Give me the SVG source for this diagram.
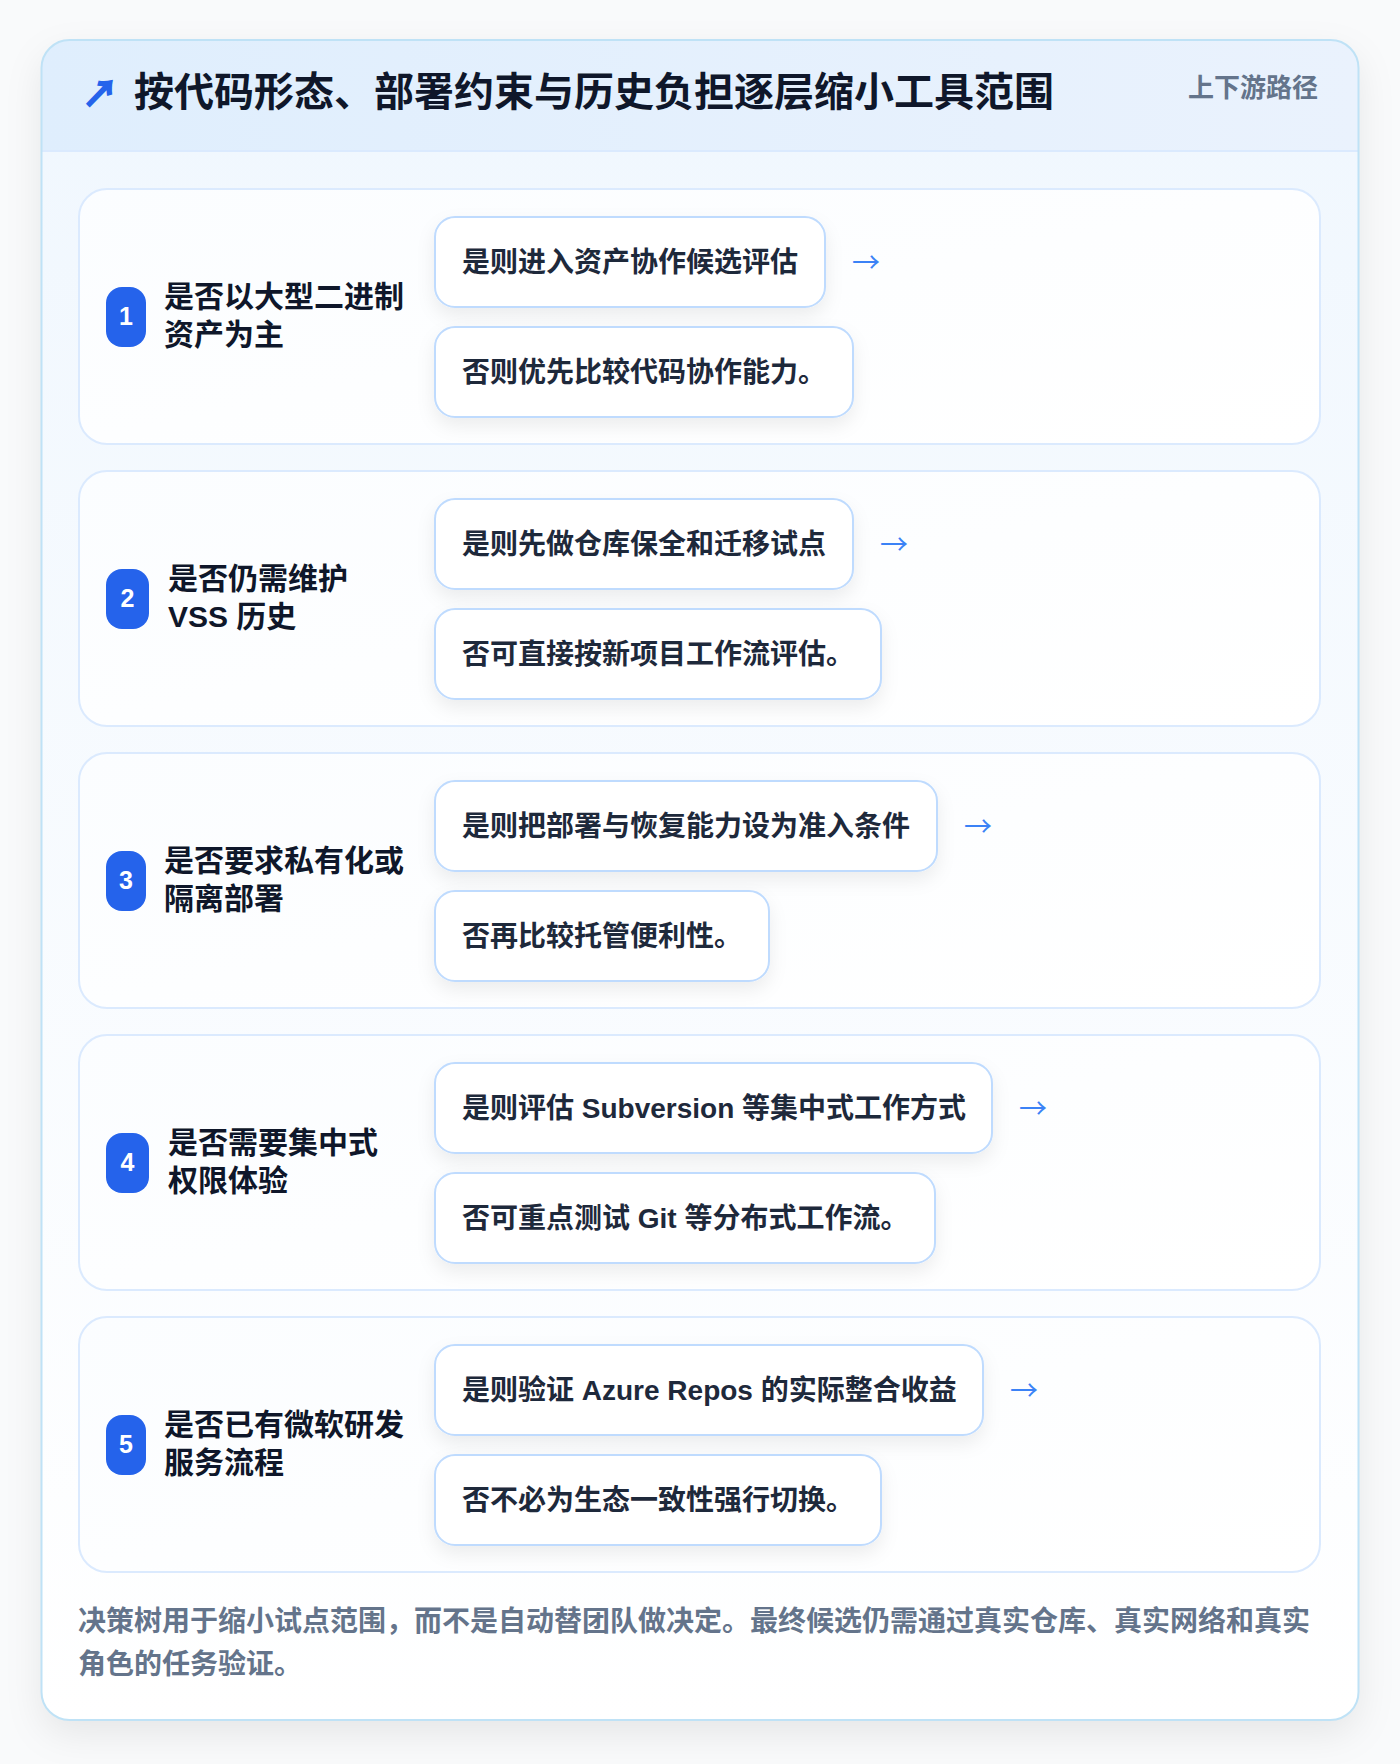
<svg xmlns="http://www.w3.org/2000/svg" width="1400" height="1764" viewBox="0 0 1400 1764">
<defs>
<linearGradient id="hdr" x1="0" y1="0" x2="1" y2="0"><stop offset="0" stop-color="#dfeefd"/><stop offset="1" stop-color="#eaf2fd"/></linearGradient>
<linearGradient id="body" x1="0" y1="0" x2="0" y2="1"><stop offset="0" stop-color="#f0f7fe"/><stop offset="1" stop-color="#ffffff"/></linearGradient>
<linearGradient id="cardbg" x1="0" y1="0" x2="1" y2="1"><stop offset="0" stop-color="#fbfdff"/><stop offset="1" stop-color="#ffffff"/></linearGradient>
<filter id="outerShadow" x="-10%" y="-10%" width="120%" height="120%"><feDropShadow dx="0" dy="14" stdDeviation="18" flood-color="#0f172a" flood-opacity="0.08"/></filter>
<filter id="boxShadow" x="-20%" y="-30%" width="140%" height="180%"><feDropShadow dx="0" dy="8" stdDeviation="9" flood-color="#0f172a" flood-opacity="0.07"/></filter>
<clipPath id="cardClip"><rect x="41.5" y="40" width="1317" height="1680" rx="28"/></clipPath>
</defs>
<style>
text{font-family:"Liberation Sans","Noto Sans CJK SC",sans-serif;}
.card{fill:url(#cardbg);stroke:#dbeafe;stroke-width:2;}
.ans{fill:#ffffff;stroke:#bfdbfe;stroke-width:2;}
.badge{fill:#2563eb;}
.num{fill:#ffffff;font-size:25px;font-weight:700;text-anchor:middle;}
.q{fill:#0f172a;font-size:30px;font-weight:700;}
.at{fill:#1e293b;font-size:28px;font-weight:700;}
.arr{fill:#3b82f6;font-size:28px;font-family:"Noto Sans CJK SC",sans-serif;}
.foot{fill:#64748b;font-size:28px;font-weight:600;}
.tarr{fill:#2563eb;stroke:#2563eb;stroke-width:1.6;font-size:36px;font-weight:700;font-family:"Noto Sans CJK SC",sans-serif;}
</style>
<rect x="0" y="0" width="1400" height="1764" fill="#f9fafb"/>
<g id="frame">
<rect x="41.5" y="40" width="1317" height="1680" rx="28" fill="url(#body)" filter="url(#outerShadow)"/>
<g clip-path="url(#cardClip)">
<rect x="41.5" y="40" width="1317" height="111" fill="url(#hdr)"/>
<line x1="41.5" y1="151" x2="1358.5" y2="151" stroke="#dbeafe" stroke-width="2"/>
</g>
<rect x="41.5" y="40" width="1317" height="1680" rx="28" fill="none" stroke="#bfe2f6" stroke-width="2"/>
</g>
<g id="header">
<text class="tarr" x="82" y="107">↗</text>
<text x="134" y="106" font-size="40" font-weight="700" fill="#0f172a">按代码形态、部署约束与历史负担逐层缩小工具范围</text>
<text x="1318" y="97" font-size="26" font-weight="700" fill="#64748b" text-anchor="end">上下游路径</text>
</g>
<g id="row1">
<rect class="card" x="79" y="189" width="1241" height="255" rx="28"/>
<rect class="badge" x="106" y="287" width="40" height="60" rx="16"/>
<text class="num" x="126" y="325">1</text>
<text class="q" x="164" y="307">是否以大型二进制</text>
<text class="q" x="164" y="345">资产为主</text>
<rect class="ans" x="435" y="217" width="390" height="90" rx="20" filter="url(#boxShadow)"/>
<text class="at" x="462" y="272">是则进入资产协作候选评估</text>
<rect class="ans" x="435" y="327" width="418" height="90" rx="20" filter="url(#boxShadow)"/>
<text class="at" x="462" y="382">否则优先比较代码协作能力。</text>
</g>
<g id="row2">
<rect class="card" x="79" y="471" width="1241" height="255" rx="28"/>
<rect class="badge" x="106" y="569" width="43" height="60" rx="16"/>
<text class="num" x="127.5" y="607">2</text>
<text class="q" x="168" y="589">是否仍需维护</text>
<text class="q" x="168" y="627">VSS 历史</text>
<rect class="ans" x="435" y="499" width="418" height="90" rx="20" filter="url(#boxShadow)"/>
<text class="at" x="462" y="554">是则先做仓库保全和迁移试点</text>
<rect class="ans" x="435" y="609" width="446" height="90" rx="20" filter="url(#boxShadow)"/>
<text class="at" x="462" y="664">否可直接按新项目工作流评估。</text>
</g>
<g id="row3">
<rect class="card" x="79" y="753" width="1241" height="255" rx="28"/>
<rect class="badge" x="106" y="851" width="40" height="60" rx="16"/>
<text class="num" x="126" y="889">3</text>
<text class="q" x="164" y="871">是否要求私有化或</text>
<text class="q" x="164" y="909">隔离部署</text>
<rect class="ans" x="435" y="781" width="502" height="90" rx="20" filter="url(#boxShadow)"/>
<text class="at" x="462" y="836">是则把部署与恢复能力设为准入条件</text>
<rect class="ans" x="435" y="891" width="334" height="90" rx="20" filter="url(#boxShadow)"/>
<text class="at" x="462" y="946">否再比较托管便利性。</text>
</g>
<g id="row4">
<rect class="card" x="79" y="1035" width="1241" height="255" rx="28"/>
<rect class="badge" x="106" y="1133" width="43" height="60" rx="16"/>
<text class="num" x="127.5" y="1171">4</text>
<text class="q" x="168" y="1153">是否需要集中式</text>
<text class="q" x="168" y="1191">权限体验</text>
<rect class="ans" x="435" y="1063" width="557" height="90" rx="20" filter="url(#boxShadow)"/>
<text class="at" x="462" y="1118">是则评估 Subversion 等集中式工作方式</text>
<rect class="ans" x="435" y="1173" width="500" height="90" rx="20" filter="url(#boxShadow)"/>
<text class="at" x="462" y="1228">否可重点测试 Git 等分布式工作流。</text>
</g>
<g id="row5">
<rect class="card" x="79" y="1317" width="1241" height="255" rx="28"/>
<rect class="badge" x="106" y="1415" width="40" height="60" rx="16"/>
<text class="num" x="126" y="1453">5</text>
<text class="q" x="164" y="1435">是否已有微软研发</text>
<text class="q" x="164" y="1473">服务流程</text>
<rect class="ans" x="435" y="1345" width="548" height="90" rx="20" filter="url(#boxShadow)"/>
<text class="at" x="462" y="1400">是则验证 Azure Repos 的实际整合收益</text>
<rect class="ans" x="435" y="1455" width="446" height="90" rx="20" filter="url(#boxShadow)"/>
<text class="at" x="462" y="1510">否不必为生态一致性强行切换。</text>
</g>
<g id="connectors">
<text class="arr" x="852" y="273">→</text>
<text class="arr" x="880" y="555">→</text>
<text class="arr" x="964" y="837">→</text>
<text class="arr" x="1019" y="1119">→</text>
<text class="arr" x="1010" y="1401">→</text>
</g>
<g id="footer">
<text class="foot" x="78" y="1631">决策树用于缩小试点范围，而不是自动替团队做决定。最终候选仍需通过真实仓库、真实网络和真实</text>
<text class="foot" x="78" y="1674">角色的任务验证。</text>
</g>
</svg>
